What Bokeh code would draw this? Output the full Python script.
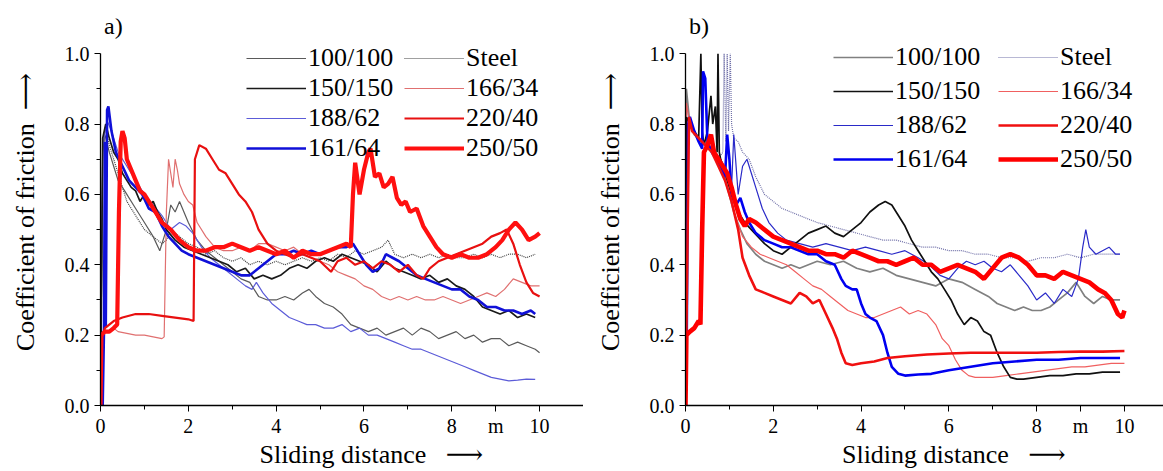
from bokeh.plotting import figure
from bokeh.layouts import row
from bokeh.models import Range1d, FixedTicker, Legend, LegendItem, ColumnDataSource, NumeralTickFormatter, Label
from bokeh.embed import file_html
from bokeh.resources import INLINE

# ---------------- panel a) ----------------
A_STEEL_X = [0, 0.05, 0.1, 0.2, 0.3, 0.4, 0.5, 0.6, 0.8, 1.0,
             1.2, 1.4, 1.5, 1.6, 1.8, 2.0, 2.2, 2.4, 2.6, 2.8,
             3.0, 3.2, 3.4, 3.6, 3.8, 4.0, 4.2, 4.4, 4.6, 4.8,
             5.0, 5.2, 5.4, 5.6, 5.8, 6.0, 6.2, 6.4, 6.55, 6.7,
             6.9, 7.1, 7.3, 7.5, 7.7, 7.9, 8.1, 8.3, 8.5, 8.7,
             8.9, 9.1, 9.3, 9.5, 9.7, 9.9]
A_STEEL_Y = [0.0, 0.70, 0.79, 0.74, 0.70, 0.66, 0.62, 0.58, 0.54, 0.50,
             0.48, 0.46, 0.47, 0.50, 0.48, 0.46, 0.45, 0.43, 0.44, 0.42,
             0.41, 0.42, 0.40, 0.41, 0.40, 0.41, 0.40, 0.41, 0.42, 0.41,
             0.42, 0.41, 0.43, 0.42, 0.44, 0.43, 0.44, 0.45, 0.47, 0.43,
             0.42, 0.43, 0.42, 0.43, 0.42, 0.43, 0.42, 0.42, 0.43, 0.42,
             0.43, 0.42, 0.43, 0.43, 0.42, 0.43]

A_100_X = [0, 0.05, 0.1, 0.2, 0.3, 0.4, 0.6, 0.8, 1.0, 1.2,
           1.35, 1.5, 1.6, 1.7, 1.8, 2.0, 2.2, 2.4, 2.6, 2.8,
           3.0, 3.2, 3.4, 3.6, 3.8, 4.0, 4.2, 4.4, 4.6, 4.75,
           4.9, 5.1, 5.3, 5.5, 5.7, 5.9, 6.1, 6.3, 6.5, 6.7,
           6.9, 7.1, 7.3, 7.5, 7.7, 7.9, 8.1, 8.3, 8.5, 8.7,
           8.9, 9.1, 9.3, 9.5, 9.7, 9.9, 10.0]
A_100_Y = [0.0, 0.72, 0.77, 0.72, 0.68, 0.64, 0.60, 0.56, 0.52, 0.48,
           0.44, 0.50, 0.57, 0.55, 0.58, 0.52, 0.47, 0.44, 0.42, 0.40,
           0.38, 0.36, 0.35, 0.31, 0.30, 0.30, 0.31, 0.30, 0.32, 0.33,
           0.31, 0.29, 0.28, 0.26, 0.23, 0.22, 0.21, 0.22, 0.20, 0.21,
           0.22, 0.20, 0.22, 0.21, 0.19, 0.20, 0.21, 0.19, 0.20, 0.18,
           0.19, 0.19, 0.17, 0.18, 0.17, 0.16, 0.15]

A_150_X = [0, 0.05, 0.12, 0.2, 0.3, 0.4, 0.5, 0.6, 0.7, 0.8,
           0.9, 1.0, 1.1, 1.2, 1.3, 1.4, 1.5, 1.7, 1.9, 2.1,
           2.3, 2.5, 2.7, 2.9, 3.1, 3.3, 3.5, 3.7, 3.9, 4.1,
           4.3, 4.5, 4.7, 4.9, 5.1, 5.3, 5.5, 5.7, 5.9, 6.1,
           6.3, 6.5, 6.7, 6.9, 7.1, 7.3, 7.5, 7.7, 7.9, 8.1,
           8.3, 8.5, 8.7, 8.9, 9.1, 9.3, 9.5, 9.7, 9.9]
A_150_Y = [0.0, 0.76, 0.80, 0.76, 0.72, 0.70, 0.66, 0.64, 0.62, 0.61,
           0.58, 0.60, 0.57, 0.58, 0.55, 0.53, 0.50, 0.47, 0.45, 0.44,
           0.43, 0.42, 0.41, 0.40, 0.38, 0.39, 0.36, 0.37, 0.36, 0.37,
           0.39, 0.40, 0.39, 0.41, 0.42, 0.41, 0.43, 0.42, 0.41, 0.40,
           0.38, 0.41, 0.39, 0.38, 0.37, 0.36, 0.37, 0.35, 0.36, 0.34,
           0.33, 0.31, 0.28, 0.27, 0.26, 0.27, 0.25, 0.26, 0.25]

A_166_X = [0, 0.03, 0.1, 0.2, 0.3, 0.4, 0.6, 0.8, 1.0, 1.2,
           1.4, 1.45, 1.5, 1.55, 1.6, 1.65, 1.7, 1.75, 1.8, 1.9,
           2.0, 2.1, 2.2, 2.4, 2.6, 2.8, 3.0, 3.2, 3.4, 3.6,
           3.8, 4.0, 4.2, 4.4, 4.6, 4.8, 5.0, 5.2, 5.4, 5.6,
           5.8, 6.0, 6.2, 6.4, 6.6, 6.8, 7.0, 7.2, 7.4, 7.6,
           7.8, 8.0, 8.2, 8.4, 8.6, 8.8, 9.0, 9.2, 9.4, 9.6,
           9.8, 10.0]
A_166_Y = [0.0, 0.20, 0.21, 0.21, 0.22, 0.21, 0.205, 0.20, 0.20, 0.195,
           0.19, 0.195, 0.55, 0.70, 0.66, 0.62, 0.70, 0.67, 0.63, 0.60,
           0.58, 0.57, 0.52, 0.48, 0.45, 0.44, 0.44, 0.45, 0.44, 0.46,
           0.46, 0.45, 0.44, 0.45, 0.43, 0.42, 0.41, 0.40, 0.38, 0.37,
           0.36, 0.34, 0.33, 0.31, 0.30, 0.31, 0.30, 0.31, 0.30, 0.30,
           0.31, 0.30, 0.29, 0.30, 0.31, 0.32, 0.31, 0.33, 0.36, 0.35,
           0.34, 0.34]

A_188_X = [0, 0.05, 0.15, 0.25, 0.4, 0.6, 0.8, 1.0, 1.2, 1.4,
           1.6, 1.8, 1.95, 2.1, 2.3, 2.5, 2.7, 2.9, 3.1, 3.3,
           3.45, 3.55, 3.7, 3.9, 4.1, 4.3, 4.5, 4.7, 4.9, 5.1,
           5.3, 5.5, 5.7, 5.9, 6.1, 6.3, 6.5, 6.7, 6.9, 7.1,
           7.3, 7.5, 7.7, 7.9, 8.1, 8.3, 8.5, 8.7, 8.9, 9.1,
           9.3, 9.5, 9.7, 9.9]
A_188_Y = [0.0, 0.74, 0.81, 0.78, 0.72, 0.68, 0.64, 0.60, 0.57, 0.54,
           0.50, 0.52, 0.51, 0.49, 0.45, 0.42, 0.40, 0.38, 0.36, 0.34,
           0.33, 0.35, 0.32, 0.29, 0.27, 0.25, 0.24, 0.23, 0.23, 0.22,
           0.22, 0.23, 0.21, 0.22, 0.20, 0.20, 0.19, 0.18, 0.17, 0.16,
           0.16, 0.15, 0.14, 0.13, 0.12, 0.11, 0.10, 0.09, 0.08, 0.075,
           0.07, 0.072, 0.075, 0.074]

A_220_X = [0, 0.02, 0.1, 0.3, 0.5, 0.8, 1.1, 1.4, 1.7, 2.0,
           2.12, 2.15, 2.25, 2.4, 2.55, 2.7, 2.85, 3.0, 3.15, 3.3,
           3.45, 3.6, 3.8, 4.0, 4.2, 4.4, 4.6, 4.8, 5.0, 5.25,
           5.4, 5.6, 5.8, 6.0, 6.2, 6.4, 6.6, 6.8, 7.0, 7.2,
           7.35, 7.5, 7.7, 7.9, 8.1, 8.3, 8.5, 8.7, 8.9, 9.1,
           9.25, 9.4, 9.55, 9.7, 9.85, 10.0]
A_220_Y = [0.0, 0.19, 0.22, 0.24, 0.25, 0.26, 0.26, 0.255, 0.25, 0.245,
           0.24, 0.70, 0.74, 0.73, 0.70, 0.67, 0.66, 0.63, 0.60, 0.58,
           0.55, 0.50, 0.46, 0.44, 0.43, 0.42, 0.43, 0.42, 0.41, 0.38,
           0.41, 0.42, 0.40, 0.41, 0.39, 0.41, 0.40, 0.38, 0.40, 0.37,
           0.36, 0.39, 0.41, 0.42, 0.43, 0.44, 0.45, 0.46, 0.48, 0.49,
           0.50, 0.46, 0.40, 0.35, 0.32, 0.31]

A_161_X = [0.05, 0.08, 0.1, 0.12, 0.15, 0.18, 0.25, 0.35, 0.5, 0.65,
           0.8, 0.95, 1.1, 1.25, 1.4, 1.55, 1.7, 1.85, 2.0, 2.2,
           2.4, 2.6, 2.8, 3.0, 3.2, 3.4, 3.6, 3.8, 4.0, 4.2,
           4.4, 4.6, 4.8, 5.0, 5.2, 5.4, 5.6, 5.75, 5.9, 6.05,
           6.2, 6.35, 6.5, 6.65, 6.8, 7.0, 7.2, 7.4, 7.6, 7.8,
           8.0, 8.2, 8.4, 8.6, 8.8, 9.0, 9.2, 9.4, 9.6, 9.8,
           9.9]
A_161_Y = [0.0, 0.22, 0.75, 0.22, 0.84, 0.85, 0.78, 0.72, 0.68, 0.64,
           0.62, 0.60, 0.56, 0.55, 0.51, 0.48, 0.46, 0.44, 0.43, 0.42,
           0.41, 0.40, 0.39, 0.38, 0.37, 0.37, 0.39, 0.41, 0.43, 0.43,
           0.44, 0.43, 0.44, 0.43, 0.44, 0.45, 0.45, 0.46, 0.43, 0.40,
           0.38, 0.39, 0.43, 0.42, 0.41, 0.39, 0.37, 0.36, 0.35, 0.34,
           0.33, 0.33, 0.31, 0.30, 0.28, 0.28, 0.27, 0.27, 0.26, 0.27,
           0.26]

A_250_X = [0, 0.02, 0.1, 0.2, 0.3, 0.38, 0.42, 0.46, 0.5, 0.55,
           0.6, 0.7, 0.8, 0.9, 1.0, 1.2, 1.4, 1.6, 1.8, 2.0,
           2.2, 2.4, 2.6, 2.8, 3.0, 3.2, 3.4, 3.6, 3.8, 4.0,
           4.2, 4.4, 4.6, 4.8, 5.0, 5.2, 5.4, 5.6, 5.7, 5.75,
           5.8, 5.9, 6.0, 6.1, 6.15, 6.25, 6.35, 6.45, 6.55, 6.65,
           6.75, 6.85, 6.95, 7.05, 7.2, 7.35, 7.5, 7.65, 7.8, 8.0,
           8.2, 8.4, 8.6, 8.8, 9.0, 9.15, 9.3, 9.45, 9.6, 9.75,
           9.9, 10.0]
A_250_Y = [0.0, 0.2, 0.21, 0.21, 0.22, 0.23, 0.55, 0.75, 0.78, 0.76,
           0.70, 0.67, 0.64, 0.61, 0.60, 0.56, 0.52, 0.50, 0.47, 0.45,
           0.44, 0.44, 0.45, 0.45, 0.46, 0.45, 0.44, 0.45, 0.44, 0.43,
           0.44, 0.42, 0.44, 0.43, 0.43, 0.44, 0.45, 0.46, 0.45, 0.60,
           0.69, 0.60, 0.67, 0.72, 0.73, 0.65, 0.66, 0.62, 0.63, 0.65,
           0.59, 0.57, 0.58, 0.55, 0.56, 0.51, 0.48, 0.45, 0.43, 0.42,
           0.43, 0.42, 0.42, 0.43, 0.45, 0.47, 0.50, 0.52, 0.50, 0.47,
           0.48, 0.49]

# ---------------- panel b) ----------------
B_STEEL_X = [0, 0.03, 0.1, 0.2, 0.3, 0.45, 0.6, 0.75, 0.85, 0.88,
             0.92, 0.95, 0.98, 1.02, 1.05, 1.1, 1.2, 1.3, 1.45, 1.6,
             1.8, 2.0, 2.2, 2.4, 2.6, 2.8, 3.0, 3.3, 3.6, 3.9,
             4.2, 4.5, 4.8, 5.1, 5.4, 5.7, 6.0, 6.3, 6.6, 6.9,
             7.2, 7.5, 7.8, 8.1, 8.4, 8.7, 9.0, 9.3, 9.6, 9.9]
B_STEEL_Y = [0.0, 0.85, 0.80, 0.78, 0.76, 0.75, 0.72, 0.70, 0.72, 1.0,
             0.75, 1.0, 0.78, 1.0, 0.80, 0.76, 0.75, 0.72, 0.70, 0.65,
             0.60, 0.58, 0.56, 0.55, 0.54, 0.53, 0.52, 0.51, 0.50, 0.49,
             0.48, 0.47, 0.47, 0.46, 0.45, 0.45, 0.44, 0.44, 0.43, 0.43,
             0.42, 0.42, 0.41, 0.42, 0.42, 0.43, 0.42, 0.43, 0.43, 0.43]

B_100_X = [0, 0.02, 0.1, 0.2, 0.35, 0.5, 0.65, 0.8, 0.95, 1.1,
           1.25, 1.4, 1.6, 1.8, 2.0, 2.2, 2.4, 2.6, 2.8, 3.0,
           3.3, 3.6, 3.9, 4.2, 4.5, 4.8, 5.1, 5.4, 5.7, 6.0,
           6.3, 6.6, 6.9, 7.1, 7.3, 7.5, 7.7, 7.9, 8.1, 8.3,
           8.5, 8.7, 8.9, 9.1, 9.3, 9.5, 9.7, 9.9]
B_100_Y = [0.0, 0.90, 0.80, 0.77, 0.75, 0.74, 0.72, 0.70, 0.62, 0.55,
           0.50, 0.46, 0.43, 0.41, 0.40, 0.39, 0.40, 0.39, 0.40, 0.41,
           0.40, 0.41, 0.39, 0.38, 0.39, 0.37, 0.36, 0.35, 0.34, 0.36,
           0.35, 0.33, 0.31, 0.29, 0.28, 0.27, 0.28, 0.27, 0.27, 0.28,
           0.30, 0.32, 0.35, 0.31, 0.29, 0.31, 0.30, 0.30]

B_150_X = [0, 0.02, 0.1, 0.2, 0.3, 0.35, 0.38, 0.42, 0.5, 0.58,
           0.62, 0.68, 0.72, 0.74, 0.77, 0.8, 0.9, 1.0, 1.1, 1.2,
           1.35, 1.5, 1.65, 1.8, 2.0, 2.2, 2.4, 2.6, 2.8, 3.0,
           3.2, 3.4, 3.6, 3.8, 4.0, 4.2, 4.4, 4.55, 4.7, 4.85,
           5.0, 5.15, 5.3, 5.45, 5.6, 5.75, 5.9, 6.05, 6.2, 6.35,
           6.5, 6.65, 6.8, 6.95, 7.1, 7.25, 7.4, 7.55, 7.7, 8.0,
           8.3, 8.6, 8.9, 9.2, 9.5, 9.9]
B_150_Y = [0.0, 0.82, 0.80, 0.78, 0.76, 1.0, 0.78, 0.74, 0.78, 0.88,
           0.80, 0.85, 0.72, 1.0, 0.72, 0.70, 0.66, 0.62, 0.58, 0.55,
           0.52, 0.50, 0.48, 0.46, 0.44, 0.43, 0.45, 0.47, 0.49, 0.50,
           0.51, 0.49, 0.48, 0.50, 0.52, 0.55, 0.57, 0.58, 0.57, 0.54,
           0.51, 0.47, 0.44, 0.41, 0.38, 0.36, 0.33, 0.30, 0.26, 0.23,
           0.25, 0.24, 0.21, 0.20, 0.15, 0.11, 0.08, 0.075, 0.075, 0.08,
           0.085, 0.085, 0.09, 0.09, 0.095, 0.095]

B_166_X = [0, 0.02, 0.1, 0.25, 0.4, 0.55, 0.7, 0.85, 1.0, 1.15,
           1.3, 1.5, 1.7, 1.9, 2.1, 2.3, 2.5, 2.7, 2.9, 3.1,
           3.3, 3.5, 3.7, 3.9, 4.1, 4.3, 4.5, 4.7, 4.9, 5.1,
           5.3, 5.5, 5.7, 5.85, 6.0, 6.15, 6.3, 6.45, 6.6, 6.8,
           7.0, 7.3, 7.6, 7.9, 8.2, 8.5, 8.8, 9.1, 9.4, 9.7,
           10.0]
B_166_Y = [0.0, 0.86, 0.80, 0.77, 0.75, 0.74, 0.70, 0.66, 0.60, 0.53,
           0.48, 0.45, 0.43, 0.42, 0.41, 0.40, 0.38, 0.36, 0.34, 0.33,
           0.31, 0.29, 0.27, 0.26, 0.25, 0.25, 0.26, 0.27, 0.28, 0.26,
           0.27, 0.26, 0.23, 0.19, 0.17, 0.13, 0.10, 0.085, 0.08, 0.08,
           0.08, 0.085, 0.09, 0.095, 0.10, 0.105, 0.11, 0.11, 0.115, 0.12,
           0.12]

B_188_X = [0, 0.02, 0.1, 0.2, 0.35, 0.5, 0.65, 0.8, 0.95, 1.05,
           1.1, 1.2, 1.3, 1.4, 1.5, 1.6, 1.75, 1.9, 2.1, 2.3,
           2.6, 2.9, 3.2, 3.5, 3.8, 4.1, 4.4, 4.7, 5.0, 5.3,
           5.55, 5.8, 6.0, 6.2, 6.4, 6.6, 6.8, 7.0, 7.2, 7.4,
           7.6, 7.8, 8.0, 8.2, 8.4, 8.6, 8.8, 8.95, 9.05, 9.12,
           9.2, 9.35, 9.5, 9.65, 9.8, 9.9]
B_188_Y = [0.0, 0.82, 0.80, 0.78, 0.75, 0.74, 0.72, 0.70, 0.66, 0.62,
           0.77, 0.60, 0.68, 0.70, 0.66, 0.62, 0.56, 0.52, 0.49, 0.47,
           0.46, 0.45, 0.46, 0.45, 0.44, 0.45, 0.44, 0.43, 0.44, 0.42,
           0.40, 0.37, 0.36, 0.39, 0.41, 0.40, 0.41, 0.39, 0.38, 0.40,
           0.37, 0.34, 0.30, 0.32, 0.29, 0.33, 0.31, 0.36, 0.45, 0.50,
           0.45, 0.43, 0.44, 0.45, 0.43, 0.43]

B_220_X = [0, 0.02, 0.08, 0.15, 0.3, 0.45, 0.6, 0.75, 0.9, 1.05,
           1.2, 1.3, 1.45, 1.6, 1.8, 2.0, 2.2, 2.4, 2.6, 2.75,
           2.9, 3.05, 3.2, 3.35, 3.45, 3.55, 3.65, 3.8, 4.0, 4.3,
           4.6, 5.0, 5.5, 6.0, 6.5, 7.0, 7.5, 8.0, 8.5, 9.0,
           9.5, 10.0]
B_220_Y = [0.0, 0.20, 0.82, 0.78, 0.76, 0.74, 0.72, 0.68, 0.64, 0.58,
           0.50, 0.42, 0.37, 0.33, 0.32, 0.31, 0.30, 0.29, 0.32, 0.31,
           0.29, 0.30, 0.26, 0.22, 0.19, 0.15, 0.12, 0.115, 0.12, 0.125,
           0.135, 0.14, 0.145, 0.148, 0.15, 0.15, 0.15, 0.15, 0.152, 0.153,
           0.153, 0.155]

B_161_X = [0, 0.03, 0.06, 0.1, 0.2, 0.3, 0.38, 0.4, 0.45, 0.5,
           0.6, 0.7, 0.8, 0.9, 0.95, 1.0, 1.05, 1.15, 1.25, 1.35,
           1.45, 1.6, 1.8, 2.0, 2.2, 2.4, 2.6, 2.8, 3.0, 3.2,
           3.4, 3.55, 3.65, 3.8, 3.9, 4.0, 4.1, 4.2, 4.35, 4.5,
           4.6, 4.7, 4.85, 5.0, 5.3, 5.6, 6.0, 6.5, 7.0, 7.5,
           8.0, 8.5, 9.0, 9.5, 9.9]
B_161_Y = [0.0, 0.22, 0.80, 0.82, 0.78, 0.75, 0.73, 0.95, 0.93, 0.75,
           0.72, 0.70, 0.68, 0.65, 0.77, 0.70, 0.60, 0.57, 0.59, 0.55,
           0.52, 0.49, 0.47, 0.46, 0.45, 0.45, 0.44, 0.43, 0.43, 0.41,
           0.40, 0.36, 0.34, 0.33, 0.33, 0.29, 0.26, 0.25, 0.24, 0.20,
           0.15, 0.11, 0.09, 0.085, 0.088, 0.09, 0.10, 0.11, 0.12, 0.125,
           0.13, 0.13, 0.135, 0.135, 0.135]

B_250_X = [0, 0.02, 0.1, 0.2, 0.3, 0.34, 0.38, 0.42, 0.5, 0.58,
           0.65, 0.75, 0.85, 0.95, 1.05, 1.15, 1.25, 1.35, 1.45, 1.6,
           1.8, 2.0, 2.2, 2.4, 2.6, 2.8, 3.0, 3.2, 3.4, 3.6,
           3.8, 4.0, 4.2, 4.4, 4.6, 4.8, 5.0, 5.2, 5.4, 5.6,
           5.8, 6.0, 6.2, 6.4, 6.6, 6.8, 7.0, 7.2, 7.4, 7.6,
           7.8, 8.0, 8.2, 8.4, 8.6, 8.8, 9.0, 9.2, 9.4, 9.55,
           9.7, 9.85, 9.95, 10.0]
B_250_Y = [0.0, 0.20, 0.21, 0.22, 0.24, 0.23, 0.50, 0.72, 0.74, 0.77,
           0.72, 0.70, 0.68, 0.66, 0.62, 0.57, 0.53, 0.51, 0.53, 0.52,
           0.50, 0.48, 0.47, 0.46, 0.45, 0.44, 0.44, 0.43, 0.43, 0.42,
           0.44, 0.43, 0.42, 0.41, 0.41, 0.40, 0.41, 0.42, 0.40, 0.40,
           0.38, 0.39, 0.40, 0.39, 0.38, 0.36, 0.39, 0.42, 0.43, 0.42,
           0.40, 0.37, 0.37, 0.36, 0.38, 0.37, 0.36, 0.35, 0.33, 0.32,
           0.30, 0.26, 0.25, 0.27]

LEGEND_ORDER = ["100/100", "Steel", "150/150", "166/34", "188/62", "220/40", "161/64", "250/50"]
DRAW_ORDER = ["Steel", "100/100", "188/62", "166/34", "150/150", "161/64", "220/40", "250/50"]

X_TICKS = [0, 2, 4, 6, 8, 9, 10]
X_MINOR = [1, 3, 5, 7, 11]
X_TICK_LABELS = {9: "m"}
Y_TICKS = [0.0, 0.2, 0.4, 0.6, 0.8, 1.0]
Y_MINOR = [0.1, 0.3, 0.5, 0.7, 0.9]

A_DATA = {
    "Steel": (A_STEEL_X, A_STEEL_Y), "100/100": (A_100_X, A_100_Y),
    "150/150": (A_150_X, A_150_Y), "166/34": (A_166_X, A_166_Y),
    "188/62": (A_188_X, A_188_Y), "220/40": (A_220_X, A_220_Y),
    "161/64": (A_161_X, A_161_Y), "250/50": (A_250_X, A_250_Y),
}
B_DATA = {
    "Steel": (B_STEEL_X, B_STEEL_Y), "100/100": (B_100_X, B_100_Y),
    "150/150": (B_150_X, B_150_Y), "166/34": (B_166_X, B_166_Y),
    "188/62": (B_188_X, B_188_Y), "220/40": (B_220_X, B_220_Y),
    "161/64": (B_161_X, B_161_Y), "250/50": (B_250_X, B_250_Y),
}

A_STYLE = {
    "100/100": dict(line_color="#5a5a5a", line_width=1.2),
    "Steel": dict(line_color="#404040", line_width=1.2, line_dash="1 1"),
    "150/150": dict(line_color="#1a1a1a", line_width=1.7),
    "166/34": dict(line_color="#e07070", line_width=1.2),
    "188/62": dict(line_color="#5c5cd8", line_width=1.2),
    "220/40": dict(line_color="#e81010", line_width=2.2),
    "161/64": dict(line_color="#1010d8", line_width=2.6),
    "250/50": dict(line_color="#ff1010", line_width=4.2),
}
B_STYLE = {
    "100/100": dict(line_color="#808080", line_width=1.7),
    "Steel": dict(line_color="#7070a8", line_width=1.2, line_dash="1 1"),
    "150/150": dict(line_color="#101010", line_width=1.7),
    "166/34": dict(line_color="#f06060", line_width=1.2),
    "188/62": dict(line_color="#2a2ac8", line_width=1.2),
    "220/40": dict(line_color="#f01010", line_width=2.6),
    "161/64": dict(line_color="#0000f0", line_width=2.6),
    "250/50": dict(line_color="#ff0000", line_width=4.6),
}

SERIF = "Liberation Serif, Times New Roman, Tinos, DejaVu Serif, serif"
NB = "\u00a0"
Y_TOP = 1.1


def make_panel(title, data, styles, width, xmax, border_left, legend_loc, legend_spacing, label_width):
    p = figure(width=width, height=471, x_range=Range1d(0, xmax), y_range=Range1d(0, Y_TOP),
               output_backend="svg", toolbar_location=None, title=None,
               min_border_left=border_left, min_border_right=0,
               min_border_top=18, min_border_bottom=62)
    p.outline_line_color = None
    p.xgrid.visible = False
    p.ygrid.visible = False
    p.background_fill_color = "white"

    p.add_layout(Label(x=0.08, y=1.078, text=title, text_font=SERIF, text_font_size="24px",
                       text_color="black", text_baseline="alphabetic", text_align="left"))

    renderers = {}
    for name in DRAW_ORDER:
        xs, ys = data[name]
        src = ColumnDataSource(dict(x=xs, y=ys))
        renderers[name] = p.line("x", "y", source=src, **styles[name])

    items = [LegendItem(label=n, renderers=[renderers[n]]) for n in LEGEND_ORDER]
    leg = Legend(items=items, location=legend_loc, orientation="horizontal", ncols=2,
                 label_text_font=SERIF, label_text_font_size="26px", label_text_color="black",
                 glyph_width=60, glyph_height=20, label_standoff=2,
                 label_width=label_width, spacing=legend_spacing, padding=0, margin=0,
                 border_line_alpha=0, background_fill_alpha=0)
    p.add_layout(leg)

    xa = p.xaxis[0]
    xa.ticker = FixedTicker(ticks=X_TICKS, minor_ticks=X_MINOR)
    xa.major_label_overrides = X_TICK_LABELS
    xa.axis_label = NB * 9 + "Sliding distance" + NB * 3 + "\u27f6"
    ya = p.yaxis[0]
    ya.ticker = FixedTicker(ticks=Y_TICKS, minor_ticks=Y_MINOR)
    ya.formatter = NumeralTickFormatter(format="0.0")
    ya.bounds = (0, 1.0)
    ya.axis_label = "Coefficient of friction" + NB * 2 + "\u27f6"

    for ax in (xa, ya):
        ax.axis_line_color = "black"
        ax.axis_line_width = 1.3
        ax.major_tick_line_color = "black"
        ax.minor_tick_line_color = "black"
        ax.major_tick_in = 0
        ax.major_tick_out = 6
        ax.minor_tick_in = 0
        ax.minor_tick_out = 4
        ax.major_label_text_font = SERIF
        ax.major_label_text_font_size = "20px"
        ax.major_label_text_color = "black"
        ax.axis_label_text_font = SERIF
        ax.axis_label_text_font_size = "26px"
        ax.axis_label_text_font_style = "normal"
        ax.axis_label_text_color = "black"
    xa.major_label_standoff = 3
    xa.axis_label_standoff = 0
    ya.major_label_standoff = 5
    ya.axis_label_standoff = 22
    return p


pa = make_panel("a)", A_DATA, A_STYLE, 583, 11.0, 100, (146, 242), 0, 96)
pb = make_panel("b)", B_DATA, B_STYLE, 580, 10.89, 102, (148, 231), 4, 99)

layout = row(pa, pb, spacing=0)
open("out.html", "w").write(file_html(layout, INLINE))
